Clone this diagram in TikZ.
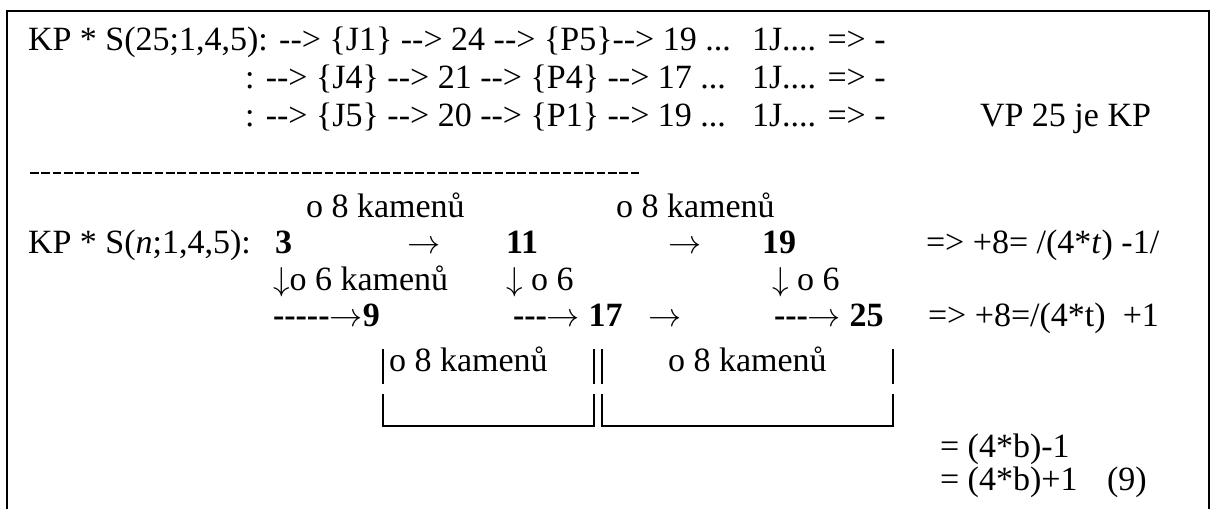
\documentclass[tikz,border=0pt]{standalone}
\usepackage{fontspec}
\setmainfont{Liberation Serif}[Ligatures=TeXOff]
\newcommand{\ra}{\ensuremath{\rightarrow}}
\newcommand{\da}{\ensuremath{\downarrow}}
\begin{document}
\begin{tikzpicture}[x=0.75pt,y=-0.75pt,
  font=\fontsize{25.5}{30}\selectfont,
  txt/.style={anchor=base west, inner sep=0pt, outer sep=0pt,
              text height=0.68em, text depth=0.18em},
  frame/.style={line width=1.5pt},
  hyph/.style={line width=1.9pt, dash pattern=on 6.4pt off 2.1pt},
  brk/.style={line width=1.2pt}]
\useasboundingbox (0,0) rectangle (1213,509);

% outer frame (open at the bottom)
\coordinate (fbl) at (7,515);
\coordinate (ftl) at (7,11);
\coordinate (ftr) at (1209,11);
\coordinate (fbr) at (1209,515);
\draw[frame] (fbl) -- (ftl) -- (ftr) -- (fbr);

% first block: S(25;1,4,5)
\node[txt] (a1) at (28,51) {KP * S(25;1,4,5): --> \{J1\} --> 24 --> \{P5\}--> 19 ...};
\node[txt] (a1e) at (752,51) {1J.... => -};
\node[txt] (a2) at (245,89) {: --> \{J4\} --> 21 --> \{P4\} --> 17 ...};
\node[txt] (a2e) at (752,89) {1J.... => -};
\node[txt] (a3) at (245,127) {: --> \{J5\} --> 20 --> \{P1\} --> 19 ...};
\node[txt] (a3e) at (752,127) {1J.... => -};
\node[txt] (vp) at (980,127) {VP 25 je KP};

% separator
\coordinate (sl) at (30,173);
\coordinate (sr) at (641,173);
\draw[hyph] (sl) -- (sr);

% second block: S(n;1,4,5)
\node[txt] (k1) at (306,218) {o 8 kamenů};
\node[txt] (k2) at (616,218) {o 8 kamenů};

\node[txt] (b0) at (28,254) {KP * S(\textit{n};1,4,5):};
\node[txt] (n3) at (275,254) {\textbf{3}};
\node[txt] (r1) at (407,254) {\ra};
\node[txt] (n11) at (506,254) {\textbf{11}};
\node[txt] (r2) at (668,254) {\ra};
\node[txt] (n19) at (762,254) {\textbf{19}};
\node[txt] (f1) at (926,254) {=> +8= /(4*\textit{t}) -1/};

\node[txt] (d1) at (273,291) {\da o 6 kamenů};
\node[txt] (d2) at (506,291) {\da\ o 6};
\node[txt] (d3) at (772,291) {\da\ o 6};

\node[txt] (n9) at (273,327) {\textbf{-----}\ra\textbf{9}};
\node[txt] (n17) at (513,327) {\textbf{---}\ra\ \textbf{17}};
\node[txt] (r3) at (648,327) {\ra};
\node[txt] (n25) at (774,327) {\textbf{---}\ra\ \textbf{25}};
\node[txt] (f2) at (928,327) {=> +8=/(4*t)\ \ +1};

% brackets under the second row
\node[txt] (k3) at (389,372) {o 8 kamenů};
\node[txt] (k4) at (668,372) {o 8 kamenů};
\coordinate (p1t) at (383,349); \coordinate (p1b) at (383,384);
\coordinate (p2t) at (594,349); \coordinate (p2b) at (594,384);
\coordinate (p3t) at (602,349); \coordinate (p3b) at (602,384);
\coordinate (p4t) at (893,349); \coordinate (p4b) at (893,384);
\draw[brk] (p1t) -- (p1b);
\draw[brk] (p2t) -- (p2b);
\draw[brk] (p3t) -- (p3b);
\draw[brk] (p4t) -- (p4b);
\coordinate (q1) at (383,394); \coordinate (q1b) at (383,426);
\coordinate (q2) at (594,394); \coordinate (q2b) at (594,426);
\coordinate (q3) at (602,394); \coordinate (q3b) at (602,426);
\coordinate (q4) at (893,394); \coordinate (q4b) at (893,426);
\draw[brk] (q1) -- (q1b) -- (q2b) -- (q2);
\draw[brk] (q3) -- (q3b) -- (q4b) -- (q4);

% results
\node[txt] (e1) at (940,457) {= (4*b)-1};
\node[txt] (e2) at (940,490) {= (4*b)+1};
\node[txt] (eq) at (1107,490) {(9)};
\end{tikzpicture}
\end{document}
